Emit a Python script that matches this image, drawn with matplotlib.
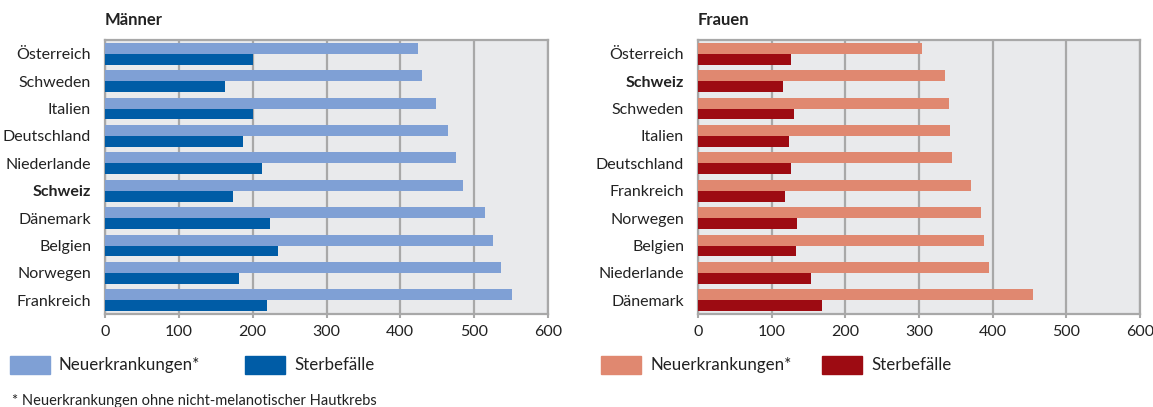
#!/usr/bin/env python3
"""Neuerkrankungen und Sterbefälle je 100 000 – Männer und Frauen im Ländervergleich."""

import matplotlib.pyplot as plt
from matplotlib.patches import Rectangle
import numpy as np

plt.rcParams["font.family"] = ["Lato", "DejaVu Sans"]

# --- Daten (von oben nach unten)
men_countries = ["Österreich", "Schweden", "Italien", "Deutschland", "Niederlande",
                 "Schweiz", "Dänemark", "Belgien", "Norwegen", "Frankreich"]
men_new = [424, 429, 448, 464, 475, 485, 515, 525, 536, 551]
men_deaths = [200, 162, 200, 187, 213, 174, 223, 234, 182, 219]

women_countries = ["Österreich", "Schweiz", "Schweden", "Italien", "Deutschland",
                   "Frankreich", "Norwegen", "Belgien", "Niederlande", "Dänemark"]
women_new = [304, 335, 341, 342, 345, 370, 384, 388, 395, 455]
women_deaths = [126, 116, 130, 124, 126, 118, 135, 133, 153, 168]

x_ticks = [0, 100, 200, 300, 400, 500, 600]
legend_labels = ["Neuerkrankungen*", "Sterbefälle"]
footnote = "* Neuerkrankungen ohne nicht-melanotischer Hautkrebs"

# --- Stil
c_men = ("#7fa0d5", "#005ca6")
c_women = ("#e08870", "#9d0b12")
c_bg = "#e9eaec"
c_grid = "#a8a8a8"
c_text = "#222222"

W, H = 1153, 407
fig = plt.figure(figsize=(W / 100, H / 100), dpi=100)


def px_axes(x0, y0, x1, y1):
    return fig.add_axes([x0 / W, 1 - y1 / H, (x1 - x0) / W, (y1 - y0) / H])


def panel(ax, countries, new, deaths, colors, title):
    y = np.arange(len(countries))
    h = 0.4
    ax.set_facecolor(c_bg)
    ax.barh(y - h / 2, new, height=h, color=colors[0], zorder=3)
    ax.barh(y + h / 2, deaths, height=h, color=colors[1], zorder=3)
    ax.set_xlim(0, 600)
    ax.set_ylim(len(countries) - 0.5, -0.5)
    ax.set_xticks(x_ticks)
    ax.set_yticks(y)
    ax.set_yticklabels(countries)
    for lab in ax.get_yticklabels():
        if lab.get_text() == "Schweiz":
            lab.set_fontweight("bold")
    ax.tick_params(axis="y", length=0, pad=10, labelsize=11.5, labelcolor=c_text)
    ax.tick_params(axis="x", length=3, width=1.5, color=c_grid, pad=5,
                   labelsize=11.5, labelcolor=c_text)
    ax.grid(axis="x", color=c_grid, linewidth=1.6, zorder=1)
    ax.set_axisbelow(True)
    for s in ax.spines.values():
        s.set_color(c_grid)
        s.set_linewidth(1.6)
    ax.text(0, 1 + 20 / 274, title, transform=ax.transAxes, fontsize=12, fontweight="bold",
            color=c_text, ha="left", va="center")


ax_m = px_axes(105, 40, 548, 314)
panel(ax_m, men_countries, men_new, men_deaths, c_men, "Männer")
ax_w = px_axes(698, 40, 1140, 314)
panel(ax_w, women_countries, women_new, women_deaths, c_women, "Frauen")


def legend(x_light, x_dark, colors):
    for x0, col, lab in zip((x_light, x_dark), colors, legend_labels):
        fig.patches.append(Rectangle((x0 / W, 1 - 374 / H), 40 / W, 18 / H,
                                     transform=fig.transFigure, color=col))
        fig.text((x0 + 49) / W, 1 - 365 / H, lab, fontsize=12.2, color=c_text,
                 ha="left", va="center")


legend(10, 245, c_men)
legend(601, 822, c_women)

fig.text(12 / W, 1 - 401 / H, footnote, fontsize=10.5, color=c_text, ha="left", va="center")

fig.savefig("out.png", dpi=100)
